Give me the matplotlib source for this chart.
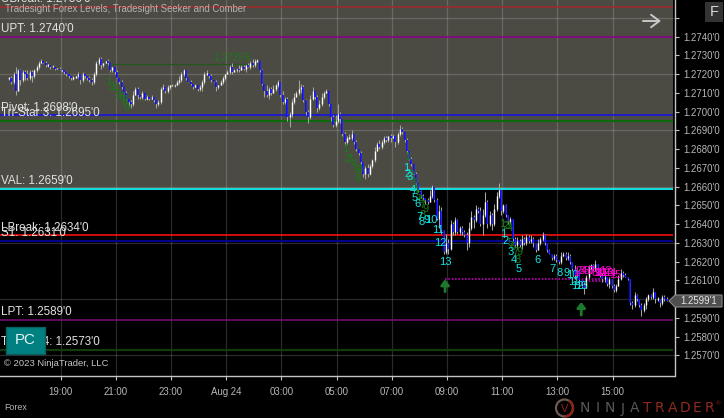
import matplotlib
matplotlib.use('Agg')
import matplotlib.pyplot as plt
from matplotlib.patches import Rectangle, Polygon, Circle, Arc

plt.rcParams['font.family'] = ['Liberation Sans', 'DejaVu Sans']

# prices are in pips, 12740 means 1.2740
closes = [
    12718, 12716, 12720, 12711, 12722, 12717, 12721, 12720, 12718, 12721, 12719, 12722,
    12724, 12726, 12727, 12726, 12725, 12725, 12724, 12724, 12723, 12723, 12722, 12722,
    12721, 12720, 12719, 12718, 12718, 12719, 12720, 12717, 12720, 12719, 12718, 12717,
    12716, 12720, 12726, 12728, 12725, 12726, 12727, 12726, 12722, 12724, 12721, 12718,
    12716, 12713, 12710, 12707, 12705, 12704, 12709, 12712, 12709, 12708, 12710, 12707,
    12708, 12707, 12708, 12706, 12704, 12705, 12712, 12713, 12711, 12713, 12714, 12714,
    12714, 12716, 12717, 12720, 12722, 12718, 12716, 12715, 12713, 12714, 12712, 12713,
    12716, 12720, 12720, 12719, 12717, 12716, 12713, 12714, 12716, 12718, 12720, 12721,
    12724, 12721, 12722, 12723, 12722, 12724, 12723, 12725, 12724, 12726, 12725, 12727,
    12727, 12722, 12715, 12711, 12709, 12712, 12710, 12712, 12714, 12716, 12709, 12705,
    12707, 12697, 12699, 12705, 12708, 12710, 12712, 12713, 12706, 12700, 12697, 12707,
    12711, 12708, 12702, 12704, 12708, 12710, 12711, 12704, 12697, 12693, 12695, 12699,
    12696, 12688, 12684, 12686, 12686, 12688, 12684, 12680, 12678, 12673, 12667, 12670,
    12667, 12671, 12674, 12679, 12683, 12681, 12684, 12686, 12685, 12687, 12686, 12687,
    12684, 12688, 12691, 12689, 12685, 12679, 12675, 12672, 12667, 12662, 12658, 12655,
    12654, 12653, 12652, 12655, 12660, 12653, 12643, 12647, 12637, 12625, 12630, 12627,
    12640, 12636, 12642, 12636, 12638, 12636, 12634, 12630, 12638, 12644, 12642, 12648,
    12647, 12640, 12645, 12652, 12640, 12645, 12640, 12648, 12655, 12658, 12647, 12650,
    12645, 12641, 12643, 12632, 12629, 12631, 12629, 12632, 12630, 12633, 12631, 12632,
    12630, 12626, 12630, 12632, 12634, 12630, 12626, 12624, 12622, 12623, 12621, 12620,
    12623, 12624, 12622, 12623, 12620, 12616, 12613, 12615, 12610, 12608, 12606, 12612,
    12616, 12618, 12616, 12619, 12615, 12613, 12611, 12612, 12608, 12611, 12607, 12605,
    12607, 12611, 12614, 12613, 12612, 12611, 12598, 12597, 12602, 12600, 12597, 12594,
    12597, 12600, 12602, 12601, 12604, 12600, 12600, 12598, 12601, 12600, 12599]

# wick length above and below the body of each bar, in pips
wick_up = [
    0, 1, 1, 4, 1, 1, 1, 1, 2, 1, 1, 1,
    1, 1, 1, 0, 1, 0, 0, 1, 0, 0, 1, 0,
    0, 0, 0, 0, 1, 0, 1, 0, 1, 0, 0, 1,
    1, 1, 1, 1, 1, 0, 0, 1, 0, 0, 0, 1,
    0, 1, 0, 1, 0, 1, 2, 1, 1, 0, 1, 0,
    1, 0, 1, 0, 0, 1, 1, 2, 0, 1, 0, 1,
    1, 1, 2, 1, 1, 0, 0, 1, 0, 1, 0, 1,
    1, 1, 2, 0, 1, 0, 1, 0, 1, 1, 0, 1,
    1, 2, 1, 0, 2, 1, 1, 0, 1, 1, 2, 1,
    1, 0, 1, 0, 3, 1, 1, 2, 1, 1, 0, 2,
    1, 1, 1, 2, 2, 1, 5, 2, 1, 1, 1, 2,
    2, 0, 1, 2, 2, 1, 1, 0, 0, 1, 3, 5,
    1, 0, 1, 1, 2, 2, 0, 1, 0, 1, 0, 1,
    2, 1, 1, 2, 1, 2, 1, 1, 1, 0, 1, 1,
    0, 1, 2, 1, 0, 1, 0, 1, 0, 1, 0, 0,
    1, 0, 1, 3, 1, 0, 1, 3, 2, 0, 5, 2,
    2, 1, 2, 1, 1, 1, 1, 2, 3, 3, 1, 2,
    1, 2, 3, 5, 1, 2, 1, 3, 2, 4, 1, 1,
    1, 0, 1, 0, 1, 2, 1, 2, 1, 2, 1, 2,
    1, 0, 2, 1, 2, 1, 0, 1, 0, 1, 1, 0,
    2, 1, 1, 2, 1, 0, 2, 1, 1, 0, 1, 1,
    2, 1, 1, 2, 0, 1, 1, 2, 0, 1, 0, 1,
    1, 2, 2, 1, 1, 0, 0, 1, 2, 1, 0, 1,
    1, 1, 1, 1, 2, 0, 1, 0, 1, 1, 1]

wick_dn = [
    1, 1, 1, 2, 0, 3, 1, 3, 1, 1, 3, 1,
    1, 1, 0, 0, 1, 1, 1, 0, 1, 0, 0, 1,
    1, 1, 1, 1, 1, 0, 1, 2, 1, 1, 1, 1,
    2, 1, 1, 1, 2, 1, 0, 1, 1, 1, 1, 0,
    1, 1, 0, 1, 2, 2, 1, 0, 2, 1, 1, 1,
    1, 1, 0, 1, 2, 1, 1, 0, 1, 1, 1, 0,
    1, 0, 1, 1, 1, 1, 0, 1, 1, 0, 1, 1,
    2, 1, 0, 1, 1, 0, 2, 1, 0, 1, 1, 0,
    1, 1, 0, 1, 1, 0, 1, 2, 0, 1, 1, 1,
    0, 1, 1, 3, 1, 2, 1, 0, 1, 1, 1, 1,
    1, 2, 5, 2, 1, 0, 1, 2, 1, 2, 3, 1,
    1, 1, 2, 1, 1, 1, 0, 1, 2, 1, 1, 1,
    2, 1, 2, 1, 0, 1, 1, 1, 1, 1, 2, 3,
    2, 1, 1, 1, 0, 1, 1, 1, 1, 1, 2, 0,
    3, 1, 1, 1, 1, 1, 1, 1, 0, 1, 1, 1,
    1, 2, 1, 0, 1, 1, 1, 5, 2, 1, 1, 3,
    1, 2, 2, 1, 2, 2, 1, 4, 2, 1, 4, 1,
    1, 1, 6, 1, 2, 1, 3, 1, 1, 1, 2, 1,
    1, 1, 1, 1, 1, 2, 1, 2, 1, 1, 1, 1,
    2, 1, 0, 1, 1, 1, 1, 0, 1, 1, 1, 1,
    1, 0, 1, 1, 1, 1, 2, 1, 2, 1, 3, 0,
    1, 0, 1, 1, 2, 1, 2, 2, 1, 2, 1, 1,
    1, 0, 1, 1, 0, 1, 1, 2, 1, 1, 1, 3,
    1, 2, 1, 1, 1, 2, 1, 2, 1, 1, 0]

opens = [closes[0]] + closes[:-1]

level_names = ['UBreak', 'UPT', 'Pivot', 'Tri-Star 3', 'VAL', 'LBreak', 'S1', 'LPT', 'Tri-Star 4']
level_prices = [12756, 12740, 12698, 12695, 12659, 12634, 12631, 12589, 12573]
level_colors = ['#a02a2a', '#8b008b', '#1414e6', '#0a6a0a', '#12e4e4', '#ff1010', '#00008b', '#7a107a', '#103c10']
level_widths = [1.15, 1.15, 1.15, 1.5, 1.4, 1.15, 1.5, 1.1, 1.6]

y_ticks = [12570, 12580, 12590, 12600, 12610, 12620, 12630, 12640, 12650, 12660,
           12670, 12680, 12690, 12700, 12710, 12720, 12730, 12740, 12750]
y_grid = [12570, 12600, 12630, 12660, 12690, 12720, 12750]
x_ticks = [22.4, 46.4, 70.4, 94.4, 118.4, 142.4, 166.4, 190.4, 214.4, 238.4, 262.4]
x_labels = ['19:00', '21:00', '23:00', 'Aug 24', '03:00', '05:00', '07:00', '09:00', '11:00', '13:00', '15:00']

# swing counters: bar position, price, text
green_x = [43, 44.8, 46, 47.4, 48.7, 49.6, 50.4, 51.3,
           146, 147, 148.3, 150, 151.3, 152.6, 151.7,
           173, 175, 176, 177, 178, 178.7, 179.6, 180.9, 180,
           214.3, 216, 217, 217.8, 218.3, 219, 220.4, 222, 221.3]
green_y = [12716, 12713, 12712, 12709, 12708, 12706, 12705, 12702,
           12680, 12675, 12675, 12672, 12669, 12669, 12664,
           12676, 12666, 12662, 12658, 12655, 12653, 12650, 12648, 12645,
           12640, 12639, 12639, 12638, 12630, 12628, 12625, 12625, 12621]
green_txt = ['1', '2', '4', '5', '6', '7', '8', '9',
             '1', '2', '3', '4', '6', '9', '8',
             '1', '2', '3', '4', '5', '6', '7', '9', '8',
             '1', '2', '3', '4', '5', '6', '7', '9', '8']

cyan_x = [172.6, 173.5, 174.3, 175.6, 176.5, 177.4, 178.3, 179.6, 181.7, 183.5, 186.5, 187.4, 189.6,
          214.8, 215.7, 218.3, 219.6, 221.7, 229.6, 236.5, 239.6, 242.6, 244.8, 245.7, 247, 248.7]
cyan_y = [12670, 12667, 12665, 12658, 12654, 12651, 12644, 12641, 12642, 12642, 12637, 12630, 12620,
          12635, 12631, 12625, 12621, 12616, 12621, 12616, 12614, 12614, 12613, 12609, 12607, 12607]
cyan_txt = ['1', '2', '3', '4', '5', '6', '7', '8', '9', '10', '11', '12', '13',
            '1', '2', '3', '4', '5', '6', '7', '8', '9', '10', '11', '12', '13']

magenta_x = [246.5, 247.6, 248.8, 250, 251.1, 252.3, 253.4, 254.6, 255.7, 256.9, 258, 259.2, 260.3, 261.5, 263.5]
magenta_y = [12614, 12615, 12615, 12615, 12615, 12615, 12615, 12614, 12614, 12614, 12614, 12615, 12614, 12614, 12613]
magenta_txt = ['1', '2', '3', '4', '5', '6', '7', '8', '9', '10', '11', '12', '13', '14', '15']

fig = plt.figure(figsize=(7.24, 4.18), dpi=100, facecolor='black')
ax = fig.add_axes([0, 1 - 376.3 / 418, 674.5 / 724, 376.3 / 418], facecolor='black')
ax.set_xlim(-3.91, 289.35)
ax.set_ylim(12740 - (376.3 - 36.7) / 1.875, 12740 + 36.7 / 1.875)

ax.axhspan(12659, 12800, xmin=0, xmax=0.9975, color='#4b4a43', lw=0, zorder=0)

for p in y_grid:
    ax.axhline(p, color='white', alpha=0.17, lw=0.9, zorder=1)
for t in x_ticks:
    ax.axvline(t, color='white', alpha=0.17, lw=0.9, zorder=1)

line_end = 288.5
for p, col, w in zip(level_prices, level_colors, level_widths):
    ax.plot([-3.91, line_end], [p, p], color=col, lw=w, zorder=2, solid_capstyle='butt')

# the candles
for i, c in enumerate(closes):
    o = opens[i]
    top = max(o, c)
    bot = min(o, c)
    ax.plot([i, i], [bot - wick_dn[i], top + wick_up[i]], color='#a4a4a4', lw=0.75, zorder=3, solid_capstyle='butt')
    down = c < o
    if top == bot:
        top = top + 0.4
        bot = bot - 0.4
    ax.plot([i, i], [bot, top], color='#0808ff' if down else 'white', lw=1.15 if down else 1.0,
            zorder=5 if down else 4, solid_capstyle='butt')

# target line from the seeker
ax.plot([42.6, 107], [12725.6, 12725.6], color='#1f5a1c', lw=0.8, zorder=2)
ax.text(97, 12726.2, "1.2725'6", color='#1a7a1a', fontsize=7.2, ha='center', va='bottom', zorder=6)

ax.hlines(12610.6, 189.6, 260, colors='#c000b8', lw=1.2, linestyles=(0, (1, 1)), zorder=2)
ax.hlines(12609.7, 249, 260, colors='#c000b8', lw=1.2, linestyles=(0, (1, 1)), zorder=2)

for x, y, s in zip(green_x, green_y, green_txt):
    ax.text(x, y, s, color='#1a7a1a', fontsize=8, ha='center', va='center', zorder=6)
for x, y, s in zip(cyan_x, cyan_y, cyan_txt):
    ax.text(x, y, s, color='#12e6e6', fontsize=8, ha='center', va='center', zorder=7)
for x, y, s in zip(magenta_x, magenta_y, magenta_txt):
    ax.text(x, y, s, color='#ff00cc', fontsize=8, ha='center', va='center', zorder=7)

for x, tip, base in [(189.6, 12610.6, 12604), (248.8, 12598.5, 12591.5)]:
    ax.annotate('', xy=(x, tip), xytext=(x, base),
                arrowprops=dict(arrowstyle='-|>,head_width=0.25,head_length=0.32',
                                color='#1d7a2c', lw=2.0, shrinkA=0, shrinkB=0), zorder=6)

# level labels on the left
for name, p in zip(level_names, level_prices):
    txt = f"{name}: {p / 10000:.4f}'0"
    ax.text(-3.4, p + 1.0, txt, color='#e2e2e2', fontsize=8.4, ha='left', va='bottom', zorder=8, clip_on=True)

ax.text(0.007, 0.976, 'Tradesight Forex Levels, Tradesight Seeker and Comber', transform=ax.transAxes,
        color='#b4b4b0', fontsize=6.9, ha='left', va='center', zorder=8)
ax.text(0.006, 0.033, '\u00a9 2023 NinjaTrader, LLC', transform=ax.transAxes,
        color='#c6c6c6', fontsize=6.8, ha='left', va='center', zorder=8)

for side in ['top', 'left']:
    ax.spines[side].set_visible(False)
for side in ['right', 'bottom']:
    ax.spines[side].set_color('#c4c4c4')
    ax.spines[side].set_linewidth(1.0)

ax.yaxis.tick_right()
ax.set_yticks(y_ticks)
ax.set_yticklabels([f"{p / 10000:.4f}'0" if p != 12750 else '' for p in y_ticks])
ax.set_xticks(x_ticks)
ax.set_xticklabels(x_labels)
ax.tick_params(axis='y', colors='#c4c4c4', labelcolor='#b8b8b8', labelsize=6.9, length=3, width=0.8, pad=3)
ax.tick_params(axis='x', colors='#c4c4c4', labelcolor='#b8b8b8', labelsize=6.9, length=3, width=0.8, pad=5)

# overlay in screen pixels for the widgets
over = fig.add_axes([0, 0, 1, 1], facecolor='none')
over.set_xlim(0, 724)
over.set_ylim(418, 0)
over.axis('off')

over.add_patch(Rectangle((5.5, 327), 39, 27, facecolor='#008080', edgecolor='#0a5f5f', lw=1, zorder=9))
over.text(25, 340.5, 'PC', color='#e8f4f4', fontsize=10.8, ha='center', va='center', zorder=10)

over.annotate('', xy=(661, 21), xytext=(643, 21),
              arrowprops=dict(arrowstyle='->,head_width=0.45,head_length=0.6', color='#c8c8c8', lw=1.4,
                              shrinkA=0, shrinkB=0))

over.add_patch(Rectangle((705, 2), 18, 20, facecolor='#333333', edgecolor='none'))
over.text(714, 12.5, 'F', color='#d8d8d8', fontsize=10.5, ha='center', va='center')

over.add_patch(Polygon([(669, 301), (675, 295), (722, 295), (722, 307), (675, 307)],
                       closed=True, facecolor='#4f4f4f', edgecolor='#8a8a8a', lw=0.8, zorder=9))
over.text(699, 301.2, "1.2599'1", color='#e6e6e6', fontsize=6.9, ha='center', va='center', zorder=10)

over.text(4, 408, 'Forex', color='#b8b8b8', fontsize=6.4, ha='left', va='center')

# logo
over.add_patch(Circle((564.5, 408), 8.5, facecolor='none', edgecolor='#6e5a50', lw=1.6))
over.add_patch(Arc((564.5, 408), 17, 17, theta1=-60, theta2=90, edgecolor='#8b2418', lw=1.8))
over.text(564.5, 408.5, 'V', color='#8b2418', fontsize=8, ha='center', va='center')
for k, letter in enumerate('NINJATRADER'):
    col = '#5c5955' if k < 5 else '#8f2a1e'
    over.text(585 + k * 12.45, 408.5, letter, color=col, fontsize=10, family='DejaVu Sans',
              ha='center', va='center')
over.text(718, 404, '\u00ae', color='#83271c', fontsize=4.5, ha='center', va='center')

fig.savefig('out.png', dpi=100, facecolor='black')
